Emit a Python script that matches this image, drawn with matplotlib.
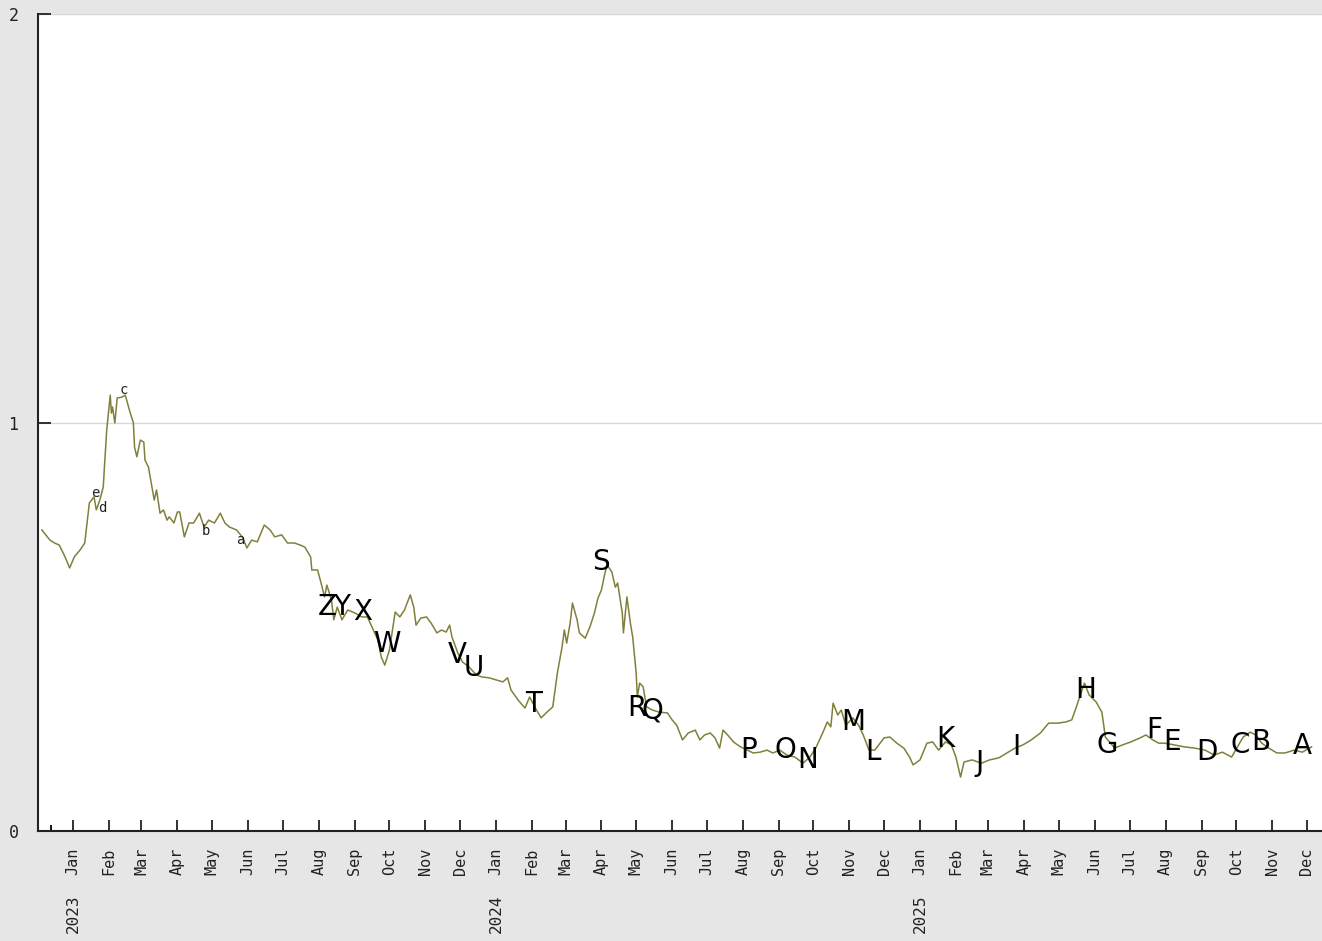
import numpy as np
import pandas as pd
import matplotlib
matplotlib.use('Agg')
import matplotlib.pyplot as plt
import matplotlib.dates as mdates
import matplotlib.transforms as mtransforms

# price series (day offsets from 2023-01-01)
base_date = '2023-01-01'
days = [-27, -20, -16, -12, -7, -3, 1, 6, 10, 12, 14, 18, 20, 23, 26, 27,
        29, 32, 33, 34, 36, 38, 42, 45, 49, 52, 53, 55, 58, 61, 62, 65, 68, 70, 72, 75,
        78, 81, 83, 87, 90, 92, 96, 100, 104, 109, 113, 117, 122, 127, 131, 135, 141, 146, 150, 154,
        159, 165, 170, 174, 180, 185, 191, 196, 200, 205,
        206, 211, 214, 217, 219, 223, 225, 228, 232, 237, 243, 249, 254, 258, 263, 266, 269, 273, 276, 278,
        282, 286, 291, 294, 296, 300, 305, 309, 314, 318, 322, 325, 327, 332, 336, 342, 348, 353, 359, 365,
        371, 375, 378, 384, 390, 394, 400, 404, 409, 414,
        418, 422, 424, 426, 429, 431, 435, 437, 442, 446, 450, 453, 456, 459, 461, 465, 468, 470, 474, 475,
        478, 481, 483, 486, 487, 489, 492, 495, 500, 506, 513, 517, 521, 526, 531, 537, 541, 545, 550, 554,
        558, 561, 565, 570, 576, 582, 587, 593, 599, 604, 610, 616, 623, 630, 636, 641, 647, 651, 654, 656,
        660, 663, 667, 673, 678, 682, 687, 692, 700, 705, 711, 717, 722, 725, 731, 737, 742, 747, 753, 758,
        762, 766, 769, 776, 784, 791, 799, 806, 813, 820, 827, 835, 842, 850, 857, 862, 866, 870, 873, 877,
        883, 888, 891, 899, 906, 913, 921, 926, 932, 937, 942, 950, 959, 968, 977, 985, 992, 1000, 1005, 1010,
        1016, 1021, 1026, 1032, 1039, 1046, 1054, 1061, 1069]
prices = [0.737, 0.712, 0.705, 0.70, 0.671, 0.644, 0.671, 0.688, 0.705, 0.754, 0.803, 0.818, 0.786, 0.81, 0.842, 0.891,
          0.982, 1.067, 1.023, 1.038, 0.999, 1.06, 1.062, 1.067, 1.026, 0.999, 0.94, 0.916, 0.957, 0.952, 0.908, 0.891, 0.842, 0.81, 0.835, 0.778,
          0.786, 0.761, 0.769, 0.754, 0.781, 0.781, 0.72, 0.754, 0.754, 0.778, 0.744, 0.761, 0.754, 0.778, 0.754, 0.744, 0.737, 0.72, 0.693, 0.712,
          0.708, 0.749, 0.737, 0.72, 0.725, 0.705, 0.705, 0.70, 0.695, 0.671,
          0.639, 0.639, 0.607, 0.573, 0.602, 0.565, 0.517, 0.548, 0.517, 0.541, 0.534, 0.524, 0.524, 0.499, 0.468, 0.426, 0.406, 0.443, 0.499, 0.536,
          0.524, 0.541, 0.578, 0.548, 0.504, 0.521, 0.524, 0.509, 0.485, 0.492, 0.487, 0.504, 0.475, 0.436, 0.414, 0.401, 0.382, 0.377, 0.375, 0.37,
          0.365, 0.375, 0.345, 0.321, 0.301, 0.328, 0.296, 0.277, 0.291, 0.304,
          0.387, 0.45, 0.492, 0.46, 0.509, 0.558, 0.517, 0.485, 0.472, 0.499, 0.534, 0.570, 0.59, 0.631, 0.651, 0.634, 0.597, 0.607, 0.534, 0.485,
          0.573, 0.509, 0.475, 0.387, 0.328, 0.362, 0.353, 0.304, 0.296, 0.291, 0.289, 0.272, 0.259, 0.223, 0.24, 0.247, 0.223, 0.235, 0.24, 0.228,
          0.203, 0.247, 0.235, 0.218, 0.206, 0.198, 0.191, 0.193, 0.198, 0.191, 0.198, 0.186, 0.181, 0.166, 0.181, 0.203, 0.24, 0.267, 0.255, 0.313,
          0.284, 0.296, 0.259, 0.277, 0.259, 0.235, 0.198, 0.198, 0.228, 0.23, 0.215, 0.203, 0.181, 0.162, 0.174, 0.215, 0.218, 0.198, 0.218, 0.211,
          0.181, 0.132, 0.169, 0.174, 0.166, 0.174, 0.179, 0.191, 0.203, 0.211, 0.223, 0.24, 0.264, 0.264, 0.267, 0.272, 0.304, 0.338, 0.362, 0.333,
          0.316, 0.291, 0.23, 0.203, 0.211, 0.218, 0.228, 0.235, 0.223, 0.215, 0.215, 0.211, 0.206, 0.203, 0.198, 0.186, 0.193, 0.181, 0.206, 0.23,
          0.242, 0.235, 0.215, 0.203, 0.191, 0.191, 0.198, 0.193, 0.206]

# event markers
small_letters = ['e', 'd', 'c', 'b', 'a']
small_days = [19, 25, 44, 115, 144]
small_vals = [0.827, 0.791, 1.08, 0.734, 0.712]

big_letters = list('ZYXWVUTSRQPONMLKJIHGFEDCBA')
big_days = [219, 232, 250, 271, 332, 346, 397, 456, 487, 500, 583, 615, 634, 673, 690,
            753, 782, 814, 874, 893, 933, 949, 979, 1007, 1025, 1061]
big_vals = [0.548, 0.548, 0.536, 0.458, 0.431, 0.399, 0.311, 0.659, 0.301, 0.296, 0.198, 0.198, 0.174, 0.267, 0.193,
            0.225, 0.166, 0.206, 0.345, 0.211, 0.247, 0.218, 0.193, 0.211, 0.218, 0.208]

base = pd.Timestamp(base_date)
def to_dates(d):
    return base + pd.to_timedelta(np.array(d), unit='D')

bg = '#e6e6e6'
mono = 'DejaVu Sans Mono'

fig = plt.figure(figsize=(13.22, 9.41), dpi=100, facecolor=bg)
ax = fig.add_axes([38 / 1322, 1 - 831 / 941, 1 - 38 / 1322, (831 - 14) / 941])
ax.set_facecolor('white')

ax.plot(to_dates(days), prices, color='#80803c', lw=1.1)

for t, d, v in zip(small_letters, small_days, small_vals):
    ax.text(to_dates([d])[0], v, t, fontsize=10, family=mono, ha='center', va='center', color='#222222')
for t, d, v in zip(big_letters, big_days, big_vals):
    ax.text(to_dates([d])[0], v, t, fontsize=20, ha='center', va='center', color='black')

ax.set_ylim(0, 2)
ax.set_xlim(pd.Timestamp('2022-12-01 16:00'), pd.Timestamp('2025-12-14'))
ax.set_yticks([0, 1, 2])
ax.yaxis.grid(True, color='#d8d8d8', lw=1)
ax.set_axisbelow(True)

for s in ['top', 'right']:
    ax.spines[s].set_visible(False)
for s in ['left', 'bottom']:
    ax.spines[s].set_color('#222222')
    ax.spines[s].set_linewidth(1.5)

ax.tick_params(axis='y', direction='in', length=9, width=1.3, pad=14, labelsize=12, colors='#222222')
for lab in ax.get_yticklabels():
    lab.set_family(mono)

ax.xaxis.set_major_locator(mdates.MonthLocator(bymonthday=1))
ax.xaxis.set_major_formatter(mdates.DateFormatter('%b'))
ax.set_xticks([pd.Timestamp('2022-12-13')], minor=True)
ax.tick_params(axis='x', which='major', direction='in', length=8, width=1.3, pad=12,
               labelsize=11, labelrotation=90, colors='#222222')
ax.tick_params(axis='x', which='minor', direction='in', length=4, width=1.3)
for lab in ax.get_xticklabels():
    lab.set_family(mono)
    lab.set_va('top')

trans = mtransforms.blended_transform_factory(ax.transData, ax.transAxes)
for yr in ['2023', '2024', '2025']:
    ax.text(pd.Timestamp(yr + '-01-01'), -0.078, yr, transform=trans, rotation=90,
            ha='center', va='top', fontsize=11.5, family=mono, color='#222222')

fig.savefig('out.png', dpi=100, facecolor=bg)
